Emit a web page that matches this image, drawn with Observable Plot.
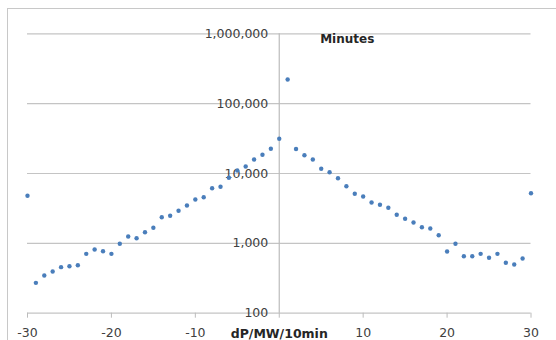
<!DOCTYPE html>
<html>
<head>
<meta charset="utf-8">
<script src="https://cdn.jsdelivr.net/npm/d3@7"></script>
<script src="https://cdn.jsdelivr.net/npm/@observablehq/plot@0.6"></script>
<style>
  html, body { margin: 0; padding: 0; background: #fff; overflow: hidden; }
  #wrap { position: relative; width: 556px; height: 340px; }
  #frame { position: absolute; left: 7px; top: 8px; width: 620px; height: 400px; border: 1px solid #c8c8c8; box-sizing: border-box; pointer-events: none; }
  #chart { position: absolute; left: 0; top: 0; }
</style>
</head>
<body>
<div id="wrap"><div id="chart"></div><div id="frame"></div></div>
<script>
const dP = [-30,-29,-28,-27,-26,-25,-24,-23,-22,-21,-20,-19,-18,-17,-16,-15,-14,-13,-12,-11,-10,-9,-8,-7,-6,-5,-4,-3,-2,-1,0,1,2,3,4,5,6,7,8,9,10,11,12,13,14,15,16,17,18,19,20,21,22,23,24,25,26,27,28,29,30];
const minutes = [4800,272,347,395,456,471,487,708,816,772,708,986,1253,1185,1444,1670,2368,2480,2923,3483,4243,4577,6160,6450,8710,11040,12600,15850,18520,22580,31400,221800,22440,18280,15850,11710,10430,8570,6580,5140,4688,3845,3563,3226,2563,2246,1988,1703,1633,1309,764,986,655,655,708,621,708,527,498,607,5224];
const xTicks = [-30,-20,-10,0,10,20,30];
const yTicks = [100,1000,10000,100000,1000000];
const title = "Minutes";
const xLabel = "dP/MW/10min";

const data = dP.map((x, i) => ({x, y: minutes[i]}));

const chart = Plot.plot({
  width: 556,
  height: 340,
  marginLeft: 27,
  marginRight: 25.5,
  marginTop: 33.3,
  marginBottom: 27.3,
  style: {fontFamily: "DejaVu Sans", fontSize: "12.5px", background: "transparent"},
  x: {domain: [-30, 30], axis: null},
  y: {type: "log", domain: [100, 1000000], axis: null},
  marks: [
    Plot.ruleY(yTicks, {stroke: "#c4c4c4", strokeWidth: 1.2}),
    Plot.ruleX([0], {stroke: "#bcbcbc", strokeWidth: 1.2}),
    Plot.axisX(xTicks, {tickSize: 5, tickPadding: 10, stroke: "#bcbcbc", fill: "#404040", label: null,
      tickFormat: d => d === 0 ? "" : String(d), fontSize: 12.5}),
    Plot.text(yTicks, {x: 0, y: d => d, text: d => d3.format(",")(d), textAnchor: "end", dx: -11, fill: "#404040"}),
    Plot.dot(data, {x: "x", y: "y", r: 2.2, fill: "#4a7ebb", stroke: null}),
    Plot.text([title], {frameAnchor: "top", lineAnchor: "middle", dx: 68, dy: 5, fontWeight: "bold", fontSize: 12, fill: "#262626"}),
    Plot.text([xLabel], {frameAnchor: "bottom", lineAnchor: "middle", dy: 20.5, fontWeight: "bold", fontSize: 12.5, fill: "#262626"})
  ]
});
document.getElementById("chart").appendChild(chart);
</script>
</body>
</html>
